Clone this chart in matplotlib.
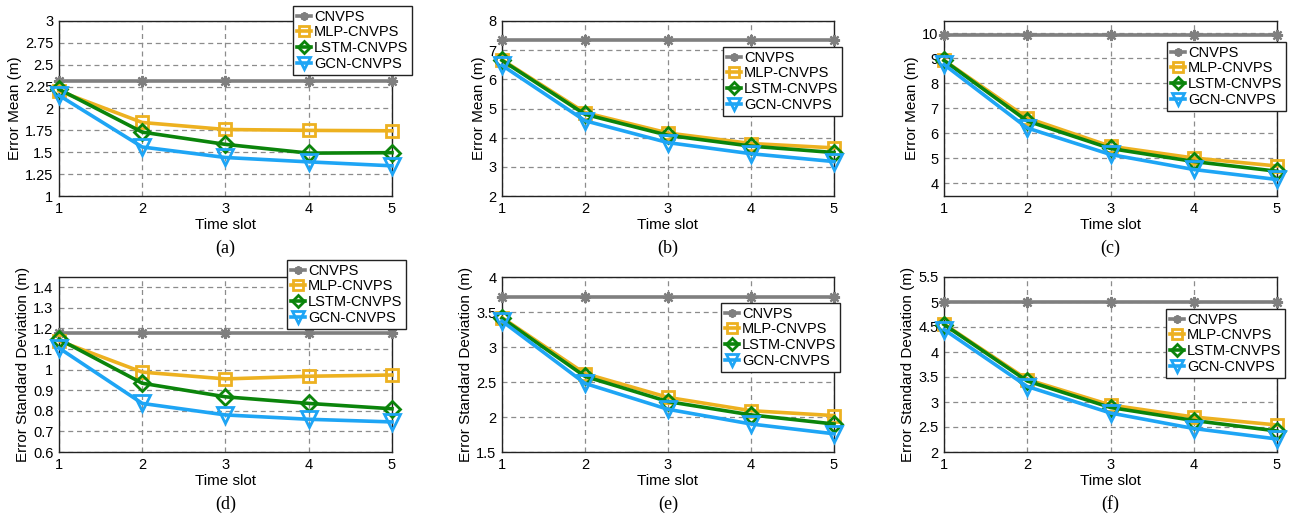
import matplotlib
matplotlib.use('Agg')
import matplotlib.pyplot as plt
from matplotlib.ticker import FormatStrFormatter

#=======================================
# Data
#=======================================
slots = [1, 2, 3, 4, 5]
names = ['CNVPS', 'MLP-CNVPS', 'LSTM-CNVPS', 'GCN-CNVPS']

# (a) error mean
a_cnvps = [2.31, 2.31, 2.31, 2.31, 2.31]
a_mlp = [2.20, 1.84, 1.76, 1.75, 1.745]
a_lstm = [2.22, 1.73, 1.59, 1.49, 1.495]
a_gcn = [2.15, 1.56, 1.44, 1.39, 1.345]
# (b) error mean
b_cnvps = [7.34, 7.34, 7.34, 7.34, 7.34]
b_mlp = [6.67, 4.86, 4.16, 3.80, 3.65]
b_lstm = [6.65, 4.80, 4.08, 3.71, 3.49]
b_gcn = [6.48, 4.58, 3.83, 3.45, 3.18]
# (c) error mean
c_cnvps = [9.92, 9.92, 9.92, 9.92, 9.92]
c_mlp = [8.93, 6.62, 5.49, 5.02, 4.70]
c_lstm = [8.92, 6.50, 5.40, 4.88, 4.49]
c_gcn = [8.76, 6.22, 5.16, 4.56, 4.16]
# (d) error std
d_cnvps = [1.178, 1.178, 1.178, 1.178, 1.178]
d_mlp = [1.14, 0.988, 0.955, 0.968, 0.974]
d_lstm = [1.148, 0.934, 0.868, 0.836, 0.810]
d_gcn = [1.105, 0.836, 0.780, 0.759, 0.746]
# (e) error std
e_cnvps = [3.72, 3.72, 3.72, 3.72, 3.72]
e_mlp = [3.42, 2.62, 2.28, 2.09, 2.02]
e_lstm = [3.41, 2.58, 2.22, 2.03, 1.90]
e_gcn = [3.37, 2.48, 2.11, 1.90, 1.76]
# (f) error std
f_cnvps = [5.0, 5.0, 5.0, 5.0, 5.0]
f_mlp = [4.56, 3.45, 2.94, 2.70, 2.54]
f_lstm = [4.55, 3.42, 2.89, 2.63, 2.42]
f_gcn = [4.45, 3.31, 2.78, 2.47, 2.26]

panels = [
    ('(a)', 'Error Mean (m)', [a_cnvps, a_mlp, a_lstm, a_gcn], (1, 3), [1, 1.25, 1.5, 1.75, 2, 2.25, 2.5, 2.75, 3]),
    ('(b)', 'Error Mean (m)', [b_cnvps, b_mlp, b_lstm, b_gcn], (2, 8), [2, 3, 4, 5, 6, 7, 8]),
    ('(c)', 'Error Mean (m)', [c_cnvps, c_mlp, c_lstm, c_gcn], (3.5, 10.5), [4, 5, 6, 7, 8, 9, 10]),
    ('(d)', 'Error Standard Deviation (m)', [d_cnvps, d_mlp, d_lstm, d_gcn], (0.6, 1.45), [0.6, 0.7, 0.8, 0.9, 1, 1.1, 1.2, 1.3, 1.4]),
    ('(e)', 'Error Standard Deviation (m)', [e_cnvps, e_mlp, e_lstm, e_gcn], (1.5, 4), [1.5, 2, 2.5, 3, 3.5, 4]),
    ('(f)', 'Error Standard Deviation (m)', [f_cnvps, f_mlp, f_lstm, f_gcn], (2, 5.5), [2, 2.5, 3, 3.5, 4, 4.5, 5, 5.5]),
]

#=======================================
# Layout (pixels)
#=======================================
W, H = 1293, 519
cols = [(59, 392), (502, 834), (944, 1277)]
rows = [(21, 196), (277, 452)]
# legend upper-left corners (pixels)
leg_pos = [(293, 6), (723, 47), (1167, 42), (287, 260), (721, 303), (1166, 309)]

colors = ['#7f7f7f', '#EDB120', '#0B840B', '#1EA5F5']
markers = [(8, 2, 0), 's', 'D', 'v']
msizes = [8, 9, 8, 11]

plt.rcParams['font.family'] = ['Liberation Sans', 'DejaVu Sans']

fig = plt.figure(figsize=(W / 100, H / 100), dpi=100)

for i, (cap, ylab, series, ylim, yticks) in enumerate(panels):
    x0, x1 = cols[i % 3]
    y0, y1 = rows[i // 3]
    ax = fig.add_axes([x0 / W, 1 - y1 / H, (x1 - x0) / W, (y1 - y0) / H])
    for k in range(4):
        ax.plot(slots, series[k], color=colors[k], marker=markers[k], ms=msizes[k],
                mfc='none', mew=2 if k else 1.6, lw=2.6, label=names[k], zorder=3 + k,
                clip_on=False)
    ax.set_xlim(1, 5)
    ax.set_ylim(*ylim)
    ax.set_xticks(slots)
    ax.set_yticks(yticks)
    ax.yaxis.set_major_formatter(FormatStrFormatter('%g'))
    ax.tick_params(direction='in', length=0, labelsize=10.5, pad=4)
    ax.grid(True, ls=(0, (4, 3)), color='#8c8c8c', lw=0.9)
    for s in ax.spines.values():
        s.set_color('#222222')
        s.set_linewidth(1)
    ax.set_xlabel('Time slot', fontsize=11, labelpad=2)
    ax.set_ylabel(ylab, fontsize=11, labelpad=2)
    ax.text(0.5, -0.30, cap, transform=ax.transAxes, ha='center', va='center',
            fontsize=13, family='Liberation Serif')
    lx, ly = leg_pos[i]
    leg = ax.legend(loc='upper left', bbox_to_anchor=(lx / W, 1 - ly / H),
                    bbox_transform=fig.transFigure, fontsize=10.5, handlelength=1.0,
                    handletextpad=0.2, labelspacing=0.12, borderpad=0.25,
                    borderaxespad=0, fancybox=False, framealpha=1, edgecolor='#222222',
                    markerscale=0.75)
    leg.get_frame().set_linewidth(1)
    leg.set_zorder(10)

fig.savefig('out.png', dpi=100)
